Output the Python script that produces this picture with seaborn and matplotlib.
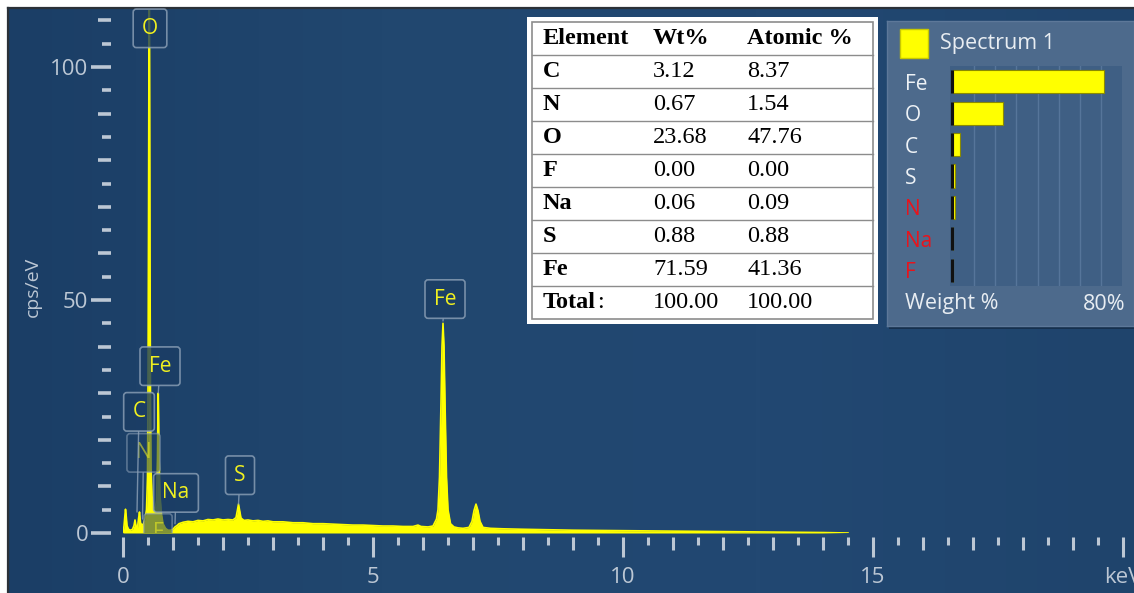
import numpy as np
import pandas as pd
import matplotlib
matplotlib.use("Agg")
import matplotlib.pyplot as plt
import matplotlib.transforms as mtransforms
import seaborn as sns
from matplotlib.patches import Rectangle
from matplotlib.colors import LinearSegmentedColormap

# ------------------------------------------------------------------ data
energy_kev = [0.00, 0.02, 0.04, 0.05, 0.06, 0.08, 0.11, 0.15, 0.19, 0.22, 0.24, 0.26,
              0.29, 0.31, 0.33, 0.35, 0.38, 0.41, 0.44, 0.47, 0.49, 0.50, 0.51, 0.52,
              0.525, 0.53, 0.54, 0.55, 0.56, 0.58, 0.61, 0.64, 0.67, 0.69, 0.70, 0.705,
              0.71, 0.72, 0.74, 0.77, 0.80, 0.85, 0.90, 0.95, 1.00, 1.04, 1.08, 1.12,
              1.20, 1.30, 1.40, 1.50, 1.60, 1.70, 1.80, 1.90, 2.00, 2.10, 2.20, 2.26,
              2.29, 2.31, 2.33, 2.36, 2.42, 2.50, 2.60, 2.70, 2.80, 2.90, 3.00, 3.20,
              3.40, 3.60, 3.80, 4.00, 4.20, 4.40, 4.60, 4.80, 5.00, 5.20, 5.40, 5.60,
              5.80, 5.90, 5.96, 6.10, 6.20, 6.27, 6.30, 6.33, 6.36, 6.38, 6.40, 6.42,
              6.44, 6.47, 6.50, 6.55, 6.62, 6.70, 6.80, 6.92, 6.98, 7.02, 7.06, 7.10,
              7.14, 7.20, 7.35, 7.60, 8.00, 8.50, 9.00, 9.50, 10.0, 10.5, 11.0, 11.5,
              12.0, 12.5, 13.0, 13.5, 14.0, 14.5]
cps_per_ev = [0.0, 1.5, 4.0, 5.1, 4.2, 1.6, 0.8, 0.6, 0.8, 1.6, 2.8, 1.5,
              1.2, 3.0, 4.5, 2.2, 1.6, 2.0, 3.0, 5.0, 12.0, 30.0, 65.0, 110.0,
              125.0, 110.0, 60.0, 28.0, 14.0, 8.0, 5.5, 5.0, 7.0, 16.0, 27.0, 30.0,
              27.0, 17.0, 8.0, 4.0, 2.0, 1.0, 0.6, 0.6, 0.8, 1.3, 1.6, 2.0,
              2.3, 2.5, 2.4, 2.7, 2.6, 2.9, 2.8, 3.0, 2.8, 2.9, 2.8, 3.3,
              5.0, 6.2, 5.0, 3.2, 2.7, 2.8, 2.6, 2.7, 2.5, 2.6, 2.4, 2.4,
              2.2, 2.2, 2.0, 2.0, 1.9, 1.8, 1.7, 1.7, 1.6, 1.5, 1.5, 1.4,
              1.4, 1.7, 1.4, 1.3, 1.5, 3.0, 5.0, 12.0, 28.0, 40.0, 45.0, 40.0,
              28.0, 12.0, 5.0, 2.0, 1.3, 1.1, 1.0, 1.2, 2.5, 4.8, 6.2, 4.8,
              2.5, 1.2, 1.0, 0.9, 0.8, 0.7, 0.6, 0.55, 0.5, 0.45, 0.4, 0.35,
              0.3, 0.25, 0.2, 0.15, 0.1, 0.0]

# peak labels: element, line energy (keV), height of the peak it marks (cps/eV)
peak_element = ["O", "Fe", "C", "N", "Na", "S", "Fe", "F"]
peak_energy = [0.525, 0.705, 0.28, 0.39, 1.04, 2.31, 6.40, 0.68]
peak_height = [104.0, 30.0, 4.5, 3.0, 2.0, 6.2, 45.5, 0.0]

# quantification table
table_elements = ["C", "N", "O", "F", "Na", "S", "Fe"]
table_wt = ["3.12", "0.67", "23.68", "0.00", "0.06", "0.88", "71.59"]
table_at = ["8.37", "1.54", "47.76", "0.00", "0.09", "0.88", "41.36"]
table_total = ["100.00", "100.00"]

# weight % bar panel
bar_elements = ["Fe", "O", "C", "S", "N", "Na", "F"]
bar_weight = [71.59, 23.68, 3.12, 0.88, 0.67, 0.06, 0.00]
bar_flagged = [False, False, False, False, True, True, True]

x_ticks = [0, 5, 10, 15, 20]
x_ticklabels = ["0", "5", "10", "15", "keV"]
y_ticks = [0, 50, 100]

# ------------------------------------------------------------------ style
W, H = 1134, 593
fig = plt.figure(figsize=(W / 100, H / 100), dpi=100)
plt.rcParams["font.family"] = ["Open Sans", "DejaVu Sans"]
fig.patch.set_facecolor("white")

AX_COL = "#bcc7d4"
YEL = "#ffff00"
LBL_YEL = "#f0f020"

def fx(px):
    return px / W

def fy(py):
    return 1 - py / H

# background panel with subtle gradient
bg = fig.add_axes([fx(8), 0, 1 - fx(8), 1 - 8 / H])
cmap = LinearSegmentedColormap.from_list("bg", ["#1b3e66", "#21476f", "#224872", "#1f446c"])
grad = np.linspace(0, 1, 256).reshape(1, -1)
bg.imshow(grad, aspect="auto", cmap=cmap, extent=[0, 1, 0, 1])
bg.set_xlim(0, 1); bg.set_ylim(0, 1)
bg.set_xticks([]); bg.set_yticks([])
for s in ["bottom", "right"]:
    bg.spines[s].set_visible(False)
for s in ["top", "left"]:
    bg.spines[s].set_color("#2b3138")
    bg.spines[s].set_linewidth(1.6)

# ------------------------------------------------------------------ main spectrum axes
x0_px, x1_px = 123, 1123
y0_px, ytop_px = 533, 10
ppu = 4.66
ax = fig.add_axes([fx(x0_px), fy(y0_px), fx(x1_px - x0_px), (y0_px - ytop_px) / H])
ax.patch.set_alpha(0)
ax.set_xlim(0, 20)
ax.set_ylim(0, (y0_px - ytop_px) / ppu)

spec = pd.DataFrame({"energy": energy_kev, "cps": cps_per_ev})
ax.fill_between(spec["energy"], 0, spec["cps"], color=YEL, lw=0, zorder=3)
sns.lineplot(data=spec, x="energy", y="cps", ax=ax, color=YEL, lw=1.2,
             estimator=None, sort=False, zorder=4)
ax.set_xlabel(""); ax.set_ylabel("")

for s in ax.spines.values():
    s.set_visible(False)
yoff = -4 / (y0_px - ytop_px)
xoff = -12 / (x1_px - x0_px)
ax.spines["bottom"].set_position(("axes", yoff))
ax.spines["left"].set_position(("axes", xoff))

ax.set_xticks(x_ticks)
ax.set_xticklabels(x_ticklabels)
ax.set_yticks(y_ticks)
ax.tick_params(axis="x", length=14.4, width=2.2, color=AX_COL, labelcolor=AX_COL,
               labelsize=16, pad=7)
ax.tick_params(axis="y", length=14.4, width=2.6, color=AX_COL, labelcolor=AX_COL,
               labelsize=16, pad=2)

sx1 = ax.secondary_xaxis(yoff)
sx1.set_xticks([v for v in range(1, 20) if v % 5 != 0])
sx1.tick_params(axis="x", length=9.2, width=2.2, color=AX_COL, labelbottom=False)
sx2 = ax.secondary_xaxis(yoff)
sx2.set_xticks([v + 0.5 for v in range(0, 20)])
sx2.tick_params(axis="x", length=5.6, width=2.2, color=AX_COL, labelbottom=False)
sy1 = ax.secondary_yaxis(xoff)
sy1.set_yticks([v for v in range(10, 111, 10) if v % 50 != 0])
sy1.tick_params(axis="y", length=9.4, width=2.6, color=AX_COL, labelleft=False)
sy2 = ax.secondary_yaxis(xoff)
sy2.set_yticks([v + 5 for v in range(0, 110, 10)])
sy2.tick_params(axis="y", length=6.2, width=2.6, color=AX_COL, labelleft=False)
for sa in (sx1, sx2, sy1, sy2):
    for s in sa.spines.values():
        s.set_visible(False)

ax.text(-0.09, 0.47, "cps/eV", transform=ax.transAxes, rotation=90, ha="center",
        va="center", color=AX_COL, fontsize=14)

# peak labels (label-box placement in data units)
label_pos = [(0.54, 108.3), (0.74, 35.8), (0.32, 26.0), (0.41, 17.2),
             (1.06, 8.6), (2.34, 12.4), (6.44, 50.2), (0.70, 0.0)]
for el, e, h, (lx, ly) in zip(peak_element, peak_energy, peak_height, label_pos):
    faint = el in ("N", "F")
    arrow = None
    if el not in ("O", "F"):
        arrow = dict(arrowstyle="-", color="#8ea2b8", lw=1.0, alpha=0.8,
                     shrinkA=0, shrinkB=0)
    ax.annotate(el, xy=(e, h), xytext=(lx, ly), textcoords="data",
                ha="center", va="center", fontsize=15,
                color=LBL_YEL, alpha=0.55 if faint else 1.0,
                bbox=dict(boxstyle="round,pad=0.42,rounding_size=0.15",
                          fc="#1b3d64", ec="#8ea2b8", lw=1.2,
                          alpha=0.55 if faint else 0.8),
                arrowprops=arrow, zorder=6 if not faint else 5,
                annotation_clip=False, clip_on=(el == "F"))

# ------------------------------------------------------------------ quantification table
tx0, ty0, tx1, ty1 = 527, 17, 878, 324
tax = fig.add_axes([fx(tx0), fy(ty1), fx(tx1 - tx0), (ty1 - ty0) / H])
tax.set_facecolor("white")
tax.set_xlim(0, tx1 - tx0)
tax.set_ylim(ty1 - ty0, 0)
tax.set_xticks([]); tax.set_yticks([])
for s in tax.spines.values():
    s.set_visible(False)
tax.add_patch(Rectangle((5, 5), tx1 - tx0 - 10, ty1 - ty0 - 10, fill=False,
                        ec="#8c8c8c", lw=1.2))
rows = [["Element", "Wt%", "Atomic %"]]
rows += [[el, w, a] for el, w, a in zip(table_elements, table_wt, table_at)]
rows += [["Total", table_total[0], table_total[1]]]
rh = (ty1 - ty0 - 10) / len(rows)
col_x = [16, 126, 220]
for i, r in enumerate(rows):
    yc = 5 + rh * (i + 0.5)
    for j, t in enumerate(r):
        bold = (i == 0) or (j == 0)
        tt = tax.text(col_x[j], yc, t, ha="left", va="center", fontsize=17.5,
                      fontweight="bold" if bold else "normal",
                      family="Liberation Serif", color="black")
        if i == len(rows) - 1 and j == 0:
            tax.annotate(":", xy=(1, 0.5), xycoords=tt, xytext=(1, 0),
                         textcoords="offset points", ha="left", va="center",
                         fontsize=17.5, family="Liberation Serif", color="black")
    if i < len(rows) - 1:
        tax.plot([5, tx1 - tx0 - 5], [5 + rh * (i + 1)] * 2, color="#8c8c8c", lw=1.0)

# ------------------------------------------------------------------ weight% panel
px0, py0, px1, py1 = 887, 21, 1134, 326
bg.add_patch(Rectangle((fx(px0 + 2), fy(py1 + 3)), fx(px1 - px0), (py1 - py0) / H,
                       transform=fig.transFigure, fc="#16304e", ec="none"))
pax = fig.add_axes([fx(px0), fy(py1), fx(px1 - px0), (py1 - py0) / H])
pax.set_facecolor("#4d6a8c")
pax.set_xlim(0, px1 - px0)
pax.set_ylim(py1 - py0, 0)
pax.set_xticks([]); pax.set_yticks([])
for s in pax.spines.values():
    s.set_color("#5d7899")
    s.set_linewidth(1.0)
pax.add_patch(Rectangle((13, 8), 28, 29, fc=YEL, ec="#c8c800", lw=1))
pax.text(53, 23, "Spectrum 1", ha="left", va="center", fontsize=15.5, color="#e8edf2")
pax.text(18, 283, "Weight %", ha="left", va="center", fontsize=15.5, color="#e8edf2")
pax.text(238, 283, "80%", ha="right", va="center", fontsize=15.5, color="#e8edf2")

bx0, by0, bx1, by1 = 950, 66, 1122, 286
bax = fig.add_axes([fx(bx0), fy(by1), fx(bx1 - bx0), (by1 - by0) / H])
bars = pd.DataFrame({"element": bar_elements, "weight": bar_weight})
sns.barplot(data=bars, x="weight", y="element", orient="h", ax=bax, color=YEL,
            edgecolor="#8a8a00", linewidth=0.8, width=0.74, saturation=1)
bax.set_facecolor("#3f5f84")
bax.set_xlim(-1.5, 80)
bax.set_ylim(len(bar_elements) - 0.5, -0.5)
for g in range(10, 80, 10):
    bax.axvline(g, color="#56759a", lw=1.0, zorder=0)
bax.vlines([-0.75] * len(bar_elements), np.arange(len(bar_elements)) - 0.37,
           np.arange(len(bar_elements)) + 0.37, color="#111111", lw=2.2, zorder=5)
bax.set_xlabel(""); bax.set_ylabel("")
bax.set_xticks([])
bax.set_yticks([])
row_tf = mtransforms.blended_transform_factory(fig.transFigure, bax.transData)
for k, (el, flag) in enumerate(zip(bar_elements, bar_flagged)):
    bax.text(fx(905), k, el, transform=row_tf, ha="left", va="center_baseline",
             fontsize=15, color="#e8141c" if flag else "#eef2f6", clip_on=False)
for s in bax.spines.values():
    s.set_visible(False)

fig.savefig("out.png", dpi=100, facecolor=fig.get_facecolor())
